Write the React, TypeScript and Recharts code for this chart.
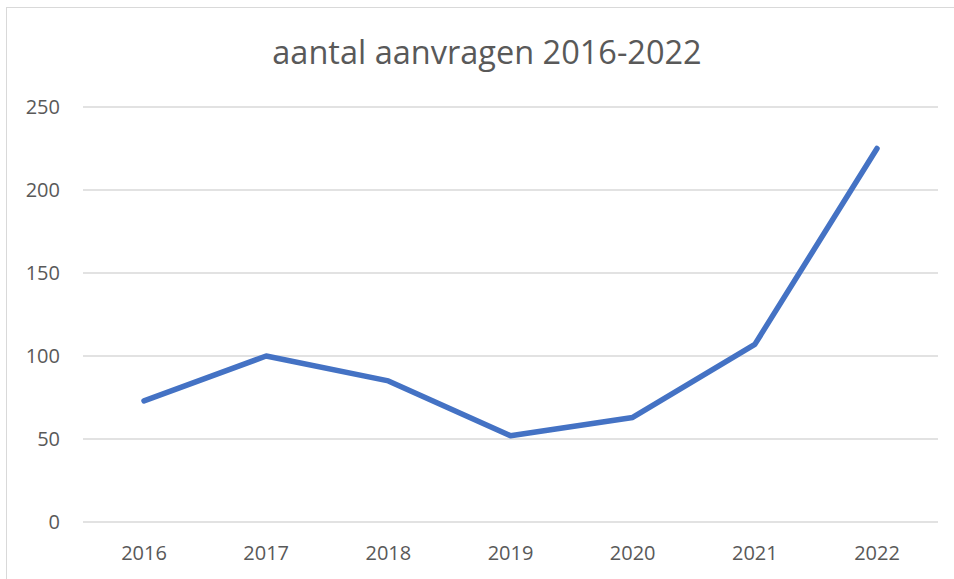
import React from 'react';
import { LineChart, Line, XAxis, YAxis, CartesianGrid } from 'recharts';

const years = ['2016', '2017', '2018', '2019', '2020', '2021', '2022'];
const aanvragen = [73, 100, 85, 52, 63, 107, 225];
const yTicks = [0, 50, 100, 150, 200, 250];

const data = years.map((year, i) => ({ year, aanvragen: aanvragen[i] }));

const font = '"Open Sans", "Noto Sans", sans-serif';

export default function App() {
  return (
    <div style={{ position: 'absolute', left: 0, top: 0, width: 954, height: 579, overflow: 'hidden', background: '#fff', fontFamily: font }}>
      <div style={{ position: 'absolute', left: 6, top: 7, width: 1100, height: 700, border: '1px solid #d9d9d9' }} />
      <div style={{ position: 'absolute', left: 0, top: 0 }}>
        <LineChart width={954} height={579} data={data} margin={{ top: 107, right: 16, bottom: 0, left: 0 }}>
          <text x={487} y={64} textAnchor="middle" fontSize={32.5} fill="#595959" fontFamily={font}>
            aantal aanvragen 2016-2022
          </text>
          <CartesianGrid horizontal vertical={false} stroke="#d9d9d9" strokeWidth={1.5} />
          <XAxis
            dataKey="year"
            axisLine={false}
            tickLine={false}
            tickSize={0}
            tickMargin={24}
            height={57}
            padding={{ left: 61, right: 61 }}
            tick={{ fill: '#595959', fontSize: 20, fontFamily: font }}
          />
          <YAxis
            domain={[0, 250]}
            ticks={yTicks}
            axisLine={false}
            tickLine={false}
            tickSize={0}
            tickMargin={23}
            width={83}
            tick={{ fill: '#595959', fontSize: 20, fontFamily: font }}
          />
          <Line
            type="linear"
            dataKey="aanvragen"
            stroke="#4472C4"
            strokeWidth={5.5}
            strokeLinecap="round"
            strokeLinejoin="round"
            dot={false}
            activeDot={false}
            isAnimationActive={false}
          />
        </LineChart>
      </div>
    </div>
  );
}
